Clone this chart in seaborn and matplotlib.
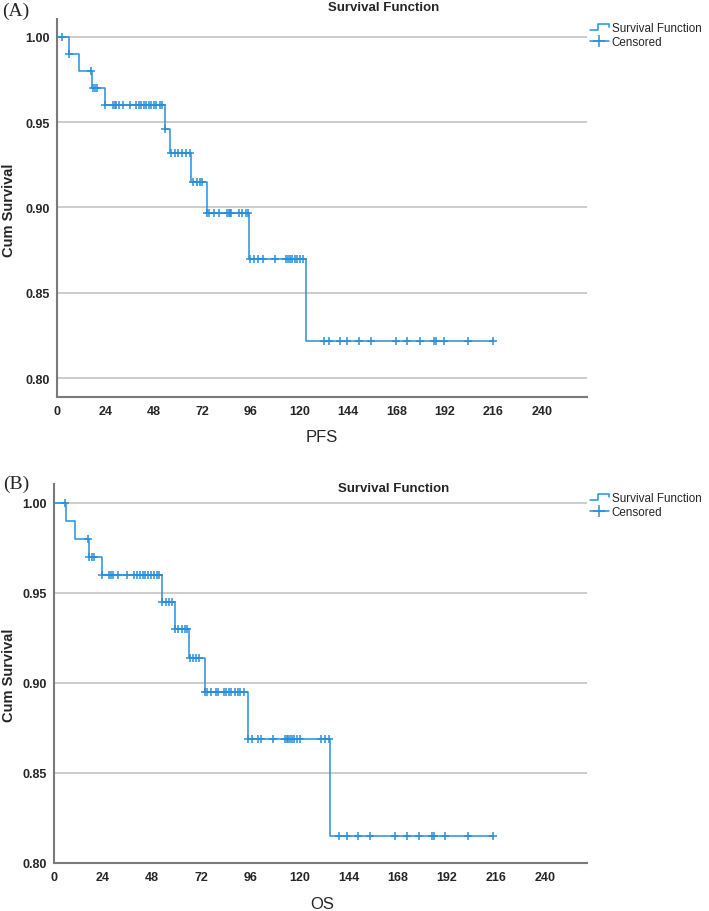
import numpy as np
import pandas as pd
import seaborn as sns
import matplotlib.pyplot as plt
from matplotlib.lines import Line2D
from matplotlib.legend_handler import HandlerBase

# ---- data (months, cumulative survival) ----
# (A) PFS
pfs_event_t = [6, 11, 17.5, 24, 53.5, 56, 66.5, 74.5, 95, 123.5]
pfs_event_s = [0.990, 0.980, 0.970, 0.960, 0.946, 0.932, 0.915, 0.897, 0.870, 0.822]
pfs_cens_t = [2.5, 6, 17, 18, 19, 20,
              24, 27.5, 28.5, 29, 30.5, 32.5, 36, 39, 40.5, 41.5, 43, 44, 45.5, 46.5, 48, 49, 51, 52,
              53.5, 56.5, 58.5, 60, 62, 64, 66,
              67.5, 69.5, 71, 72,
              74.5, 75.5, 77.5, 80, 84, 85, 85.5, 86, 90, 91.5, 93.5, 94.5,
              95.5, 97.5, 99.5, 102, 108, 113.5, 114.5, 115.5, 116.5, 118, 119, 120.5, 122,
              132, 134.5, 140, 143.5, 149.5, 155.5, 168, 173.5, 179.5, 186.5, 187.5, 191.5, 203.5, 216]

# (B) OS
os_event_t = [6, 10.5, 17, 23.5, 53, 59, 66, 74, 95, 135]
os_event_s = [0.990, 0.980, 0.970, 0.960, 0.945, 0.930, 0.914, 0.895, 0.869, 0.815]
os_cens_t = [5.5, 16.5, 17, 18.5, 19.5,
             23.5, 27, 28, 29, 31.5, 35.5, 39, 40.5, 42, 43.5, 44.5, 46, 47.5, 49, 50.5, 51.5,
             53, 55, 56, 57.5,
             59, 60.5, 62.5, 64, 65,
             66.5, 68, 69.5, 71,
             74, 75, 77, 79, 80, 83, 84, 85.5, 86.5, 88.5, 90, 91, 93,
             95, 97, 99.5, 101, 107, 113, 114, 114.5, 115.5, 116.5, 117.5, 119, 120.5, 130.5, 132.5, 134.5,
             139.5, 143.5, 148.5, 154.5, 166.5, 172.5, 178.5, 185, 186, 191, 202.5, 214.5]

x_ticks = [0, 24, 48, 72, 96, 120, 144, 168, 192, 216, 240]

blue = "#2690dc"
grid_c = "#c4c4c4"
spine_c = "#7a7a7a"

sns.set_style("white")
plt.rcParams['font.family'] = ['Liberation Sans', 'DejaVu Sans']


def km_frames(ev_t, ev_s, cens_t):
    end = max(cens_t)
    steps = pd.DataFrame({'t': [0] + ev_t + [end], 's': [1.0] + ev_s + [ev_s[-1]]})
    idx = np.searchsorted(ev_t, cens_t, side='right')
    levels = np.array([1.0] + ev_s)
    cens = pd.DataFrame({'t': cens_t, 's': levels[idx]})
    return steps, cens


class StepHandler(HandlerBase):
    def create_artists(self, legend, orig_handle, xdescent, ydescent, width, height, fontsize, trans):
        xs = np.array([0, 0.45, 0.45, 1.0, 1.0]) * width - xdescent
        ys = np.array([0.15, 0.15, 0.85, 0.85, 0.5]) * height - ydescent
        return [Line2D(xs, ys, color=blue, lw=1.1, transform=trans)]


fig = plt.figure(figsize=(7.09, 9.12), dpi=100)


def px_axes(l, t, r, b):
    return fig.add_axes([l / 709, 1 - b / 912, (r - l) / 709, (b - t) / 912])


def draw_panel(ax, ev_t, ev_s, cens_t, xmax, ylim, yticks, ylabels):
    steps, cens = km_frames(ev_t, ev_s, cens_t)
    sns.lineplot(data=steps, x='t', y='s', ax=ax, drawstyle='steps-post', color=blue,
                 lw=1.1, estimator=None, sort=False, zorder=3)
    sns.scatterplot(data=cens, x='t', y='s', ax=ax, marker='+', color=blue, s=32,
                    linewidth=1.1, zorder=4)
    ax.set_xlim(0, xmax)
    ax.set_ylim(*ylim)
    ax.set_xticks(x_ticks)
    ax.set_yticks(yticks)
    ax.set_yticklabels(ylabels)
    ax.set_xlabel('')
    ax.set_ylabel('')
    ax.grid(axis='y', color=grid_c, lw=1.2)
    ax.set_axisbelow(True)
    for side in ['top', 'right']:
        ax.spines[side].set_visible(False)
    for side in ['left', 'bottom']:
        ax.spines[side].set_color(spine_c)
        ax.spines[side].set_linewidth(1.5)
    ax.tick_params(axis='y', length=0, pad=5)
    ax.tick_params(axis='x', length=0, pad=6)
    for lab in ax.get_xticklabels() + ax.get_yticklabels():
        lab.set_fontweight('bold')
        lab.set_fontsize(9)


def legend_at(ax, top_px):
    handles = [Line2D([0], [0], color=blue),
               Line2D([0], [0], color=blue, marker='+', lw=1.1, markersize=9, mew=1.1)]
    ax.legend(handles, ['Survival Function', 'Censored'],
              handler_map={handles[0]: StepHandler()},
              loc='upper left', bbox_to_anchor=(590 / 709, 1 - top_px / 912),
              bbox_transform=fig.transFigure, frameon=False, fontsize=8.4,
              handlelength=1.6, handletextpad=0.25, labelspacing=0.2,
              borderpad=0, borderaxespad=0)


def fig_text(x, y, s, **kw):
    fig.text(x / 709, 1 - y / 912, s, ha='center', va='center', **kw)


# ---- panel A ----
axA = px_axes(57, 20, 587, 398)
draw_panel(axA, pfs_event_t, pfs_event_s, pfs_cens_t, 262.4, (0.7889, 1.0105),
           [0.80, 0.85, 0.90, 0.95, 1.00], ['0.80', '0.85', '0.90', '0.95', '1.00'])
legend_at(axA, 23)
fig_text(384, 8, 'Survival Function', fontsize=9.5, fontweight='bold')
fig_text(16, 11, '(A)', fontsize=14, family='Liberation Serif')
fig_text(9, 210, 'Cum Survival', fontsize=10.5, fontweight='bold', rotation=90)
fig_text(322, 438, 'PFS', fontsize=12)

# ---- panel B ----
axB = px_axes(54, 485, 587, 864)
draw_panel(axB, os_event_t, os_event_s, os_cens_t, 260.6, (0.80, 1.0105),
           [0.80, 0.85, 0.90, 0.95, 1.00], ['0.80', '0.85', '0.90', '0.95', '1.00'])
legend_at(axB, 493)
fig_text(394, 489, 'Survival Function', fontsize=9.5, fontweight='bold')
fig_text(16, 484, '(B)', fontsize=14, family='Liberation Serif')
fig_text(9, 675, 'Cum Survival', fontsize=10.5, fontweight='bold', rotation=90)
fig_text(322, 905, 'OS', fontsize=12)

fig.savefig('out.png', dpi=100)
